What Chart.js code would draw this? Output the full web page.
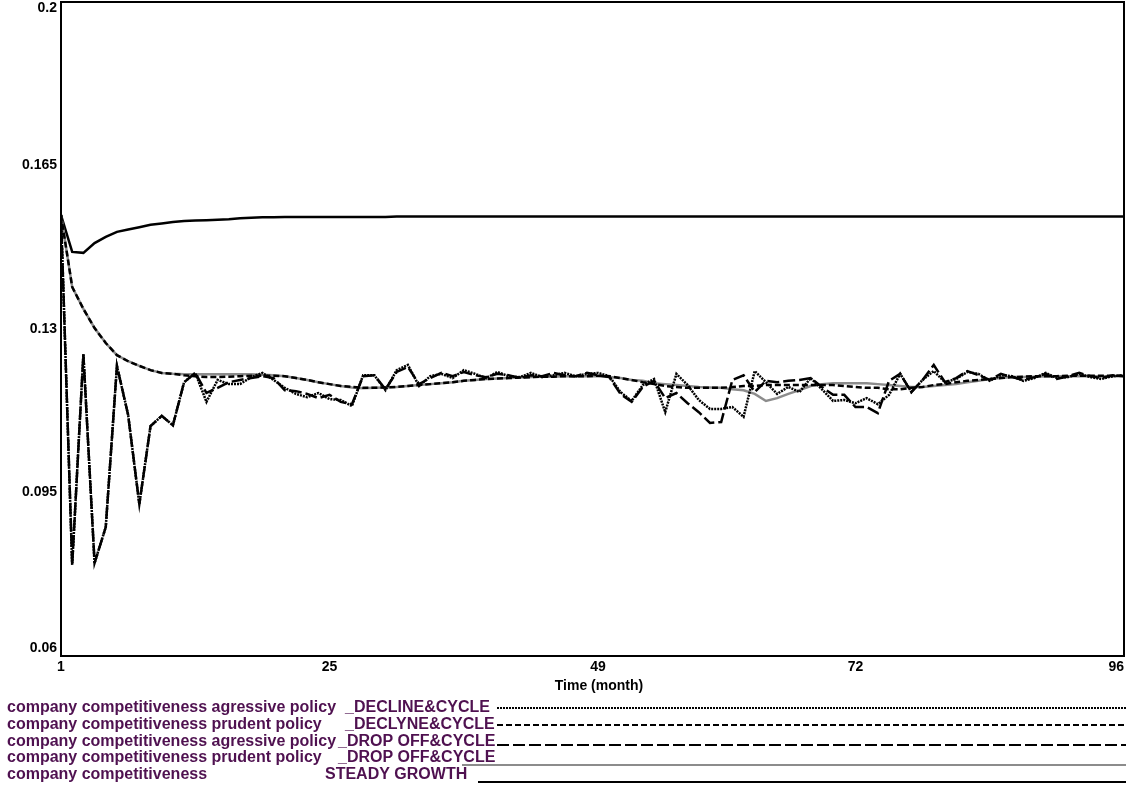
<!DOCTYPE html>
<html>
<head>
<meta charset="utf-8">
<script src="https://cdn.jsdelivr.net/npm/chart.js@4/dist/chart.umd.min.js"></script>
<style>
  body { margin: 0; background: #fff; }
  #wrap { width: 1126px; height: 787px; }
</style>
</head>
<body>
<div id="wrap"><canvas id="myChart" width="1126" height="787"></canvas></div>
<script>
// months 1..96
const months = [1,2,3,4,5,6,7,8,9,10,11,12,13,14,15,16,17,18,19,20,21,22,23,24,25,26,27,28,29,30,31,32,
  33,34,35,36,37,38,39,40,41,42,43,44,45,46,47,48,49,50,51,52,53,54,55,56,57,58,59,60,61,62,63,64,
  65,66,67,68,69,70,71,72,73,74,75,76,77,78,79,80,81,82,83,84,85,86,87,88,89,90,91,92,93,94,95,96];

const xTicks = [1, 25, 49, 72, 96];
const yTicks = [0.06, 0.095, 0.13, 0.165, 0.2];
const yTickLabels = ["0.06", "0.095", "0.13", "0.165", "0.2"];

// agressive policy _DECLINE&CYCLE
const aggDecline = [0.1544,0.0795,0.1246,0.0799,0.0876,0.1221,0.1116,0.0925,0.1092,0.1114,
  0.1094,0.1186,0.1206,0.1144,0.1191,0.1182,0.1182,0.1197,0.1206,0.1191,
  0.1174,0.1161,0.1154,0.1163,0.1150,0.1148,0.1135,0.1201,0.1201,0.1169,
  0.1212,0.1223,0.1178,0.1199,0.1204,0.1195,0.1212,0.1204,0.1195,0.1208,
  0.1199,0.1197,0.1206,0.1197,0.1201,0.1206,0.1199,0.1204,0.1206,0.1199,
  0.1165,0.1146,0.1180,0.1193,0.1122,0.1204,0.1180,0.1148,0.1129,0.1129,
  0.1133,0.1112,0.1210,0.1186,0.1161,0.1176,0.1165,0.1195,0.1171,0.1146,
  0.1148,0.1141,0.1152,0.1139,0.1159,0.1204,0.1165,0.1191,0.1210,0.1186,
  0.1193,0.1208,0.1204,0.1189,0.1201,0.1199,0.1189,0.1195,0.1206,0.1195,
  0.1197,0.1204,0.1197,0.1193,0.1199,0.1201];

// prudent policy _DECLYNE&CYCLE
const prudDecline = [0.1544,0.1390,0.1343,0.1302,0.1270,0.1244,0.1231,0.1221,0.1212,0.1206,
  0.1204,0.1201,0.1199,0.1197,0.1197,0.1198,0.1199,0.1200,0.1200,0.1200,
  0.1199,0.1195,0.1191,0.1186,0.1182,0.1178,0.1176,0.1174,0.1174,0.1175,
  0.1176,0.1178,0.1180,0.1182,0.1184,0.1186,0.1189,0.1191,0.1193,0.1194,
  0.1195,0.1196,0.1197,0.1198,0.1198,0.1199,0.1199,0.1199,0.1200,0.1199,
  0.1195,0.1191,0.1186,0.1182,0.1178,0.1176,0.1174,0.1174,0.1174,0.1174,
  0.1176,0.1178,0.1178,0.1180,0.1180,0.1180,0.1180,0.1180,0.1180,0.1180,
  0.1178,0.1176,0.1174,0.1174,0.1171,0.1171,0.1174,0.1176,0.1180,0.1182,
  0.1186,0.1189,0.1191,0.1193,0.1195,0.1197,0.1198,0.1199,0.1199,0.1199,
  0.1200,0.1200,0.1200,0.1200,0.1200,0.1200];

// agressive policy _DROP OFF&CYCLE
const aggDrop = [0.1544,0.0795,0.1246,0.0799,0.0876,0.1221,0.1116,0.0925,0.1092,0.1114,
  0.1094,0.1186,0.1206,0.1163,0.1174,0.1186,0.1191,0.1195,0.1199,0.1195,
  0.1169,0.1167,0.1161,0.1152,0.1159,0.1144,0.1139,0.1199,0.1201,0.1171,
  0.1208,0.1219,0.1182,0.1195,0.1206,0.1199,0.1208,0.1201,0.1197,0.1204,
  0.1201,0.1195,0.1201,0.1199,0.1206,0.1201,0.1199,0.1206,0.1201,0.1197,
  0.1161,0.1144,0.1176,0.1189,0.1152,0.1163,0.1141,0.1122,0.1099,0.1101,
  0.1191,0.1201,0.1165,0.1189,0.1186,0.1189,0.1191,0.1195,0.1176,0.1159,
  0.1159,0.1133,0.1133,0.1120,0.1189,0.1204,0.1165,0.1191,0.1223,0.1186,
  0.1195,0.1210,0.1201,0.1191,0.1204,0.1197,0.1191,0.1197,0.1204,0.1193,
  0.1199,0.1206,0.1199,0.1195,0.1201,0.1199];

// prudent policy _DROP OFF&CYCLE
const prudDrop = [0.1544,0.1390,0.1343,0.1302,0.1270,0.1244,0.1231,0.1221,0.1212,0.1206,
  0.1204,0.1203,0.1203,0.1203,0.1203,0.1203,0.1203,0.1203,0.1202,0.1201,
  0.1199,0.1195,0.1191,0.1186,0.1182,0.1178,0.1175,0.1173,0.1174,0.1175,
  0.1176,0.1178,0.1180,0.1182,0.1184,0.1186,0.1189,0.1191,0.1193,0.1194,
  0.1195,0.1196,0.1197,0.1198,0.1198,0.1199,0.1199,0.1199,0.1199,0.1197,
  0.1195,0.1191,0.1189,0.1184,0.1182,0.1180,0.1178,0.1176,0.1175,0.1174,
  0.1171,0.1169,0.1161,0.1146,0.1152,0.1161,0.1169,0.1178,0.1182,0.1184,
  0.1184,0.1184,0.1184,0.1182,0.1180,0.1178,0.1176,0.1176,0.1178,0.1180,
  0.1182,0.1186,0.1189,0.1193,0.1195,0.1197,0.1197,0.1198,0.1199,0.1199,
  0.1199,0.1199,0.1199,0.1199,0.1199,0.1199];

// STEADY GROWTH
const steady = [0.1544,0.1465,0.1463,0.1484,0.1497,0.1508,0.1513,0.1518,0.1523,0.1526,
  0.1529,0.1531,0.1532,0.1533,0.1534,0.1535,0.1537,0.1538,0.1539,0.1539,
  0.1540,0.1540,0.1540,0.1540,0.1540,0.1540,0.1540,0.1540,0.1540,0.1540,
  0.1541,0.1541,0.1541,0.1541,0.1541,0.1541,0.1541,0.1541,0.1541,0.1541,
  0.1541,0.1541,0.1541,0.1541,0.1541,0.1541,0.1541,0.1541,0.1541,0.1541,
  0.1541,0.1541,0.1541,0.1541,0.1541,0.1541,0.1541,0.1541,0.1541,0.1541,
  0.1541,0.1541,0.1541,0.1541,0.1541,0.1541,0.1541,0.1541,0.1541,0.1541,
  0.1541,0.1541,0.1541,0.1541,0.1541,0.1541,0.1541,0.1541,0.1541,0.1541,
  0.1541,0.1541,0.1541,0.1541,0.1541,0.1541,0.1541,0.1541,0.1541,0.1541,
  0.1541,0.1541,0.1541,0.1541,0.1541,0.1541];

const legendNames = [
  ["company competitiveness agressive policy", "_DECLINE&CYCLE"],
  ["company competitiveness prudent policy", "_DECLYNE&CYCLE"],
  ["company competitiveness agressive policy", "_DROP OFF&CYCLE"],
  ["company competitiveness prudent policy", "_DROP OFF&CYCLE"],
  ["company competitiveness", "STEADY GROWTH"]
];

const TICK_FONT = 'bold 14px "Liberation Sans", Arial, sans-serif';
const LEG_FONT = 'bold 16px "Liberation Sans", Arial, sans-serif';

// legend rows: tag x, text y, line start, line y
const legendRows = [
  {tx: 345, ty: 708, lx: 497, ly: 708},
  {tx: 345, ty: 725, lx: 497, ly: 725},
  {tx: 338, ty: 742, lx: 497, ly: 745},
  {tx: 338, ty: 758, lx: 462, ly: 765},
  {tx: 325, ty: 775, lx: 478, ly: 782}
];

const frame = {
  id: 'frame',
  afterDraw(chart) {
    const ctx = chart.ctx;
    const a = chart.chartArea;
    const xs = chart.scales.x, ys = chart.scales.y;
    ctx.save();
    ctx.strokeStyle = '#000';
    ctx.lineWidth = 2;
    ctx.setLineDash([]);
    ctx.strokeRect(a.left, a.top, a.right - a.left, a.bottom - a.top);

    ctx.font = TICK_FONT;
    ctx.fillStyle = '#000';
    ctx.textBaseline = 'middle';
    ctx.textAlign = 'right';
    yTicks.forEach((v, i) => {
      let y = ys.getPixelForValue(v);
      if (i === yTicks.length - 1) y += 6;
      if (i === 0) y -= 8;
      ctx.fillText(yTickLabels[i], 57, y);
    });
    xTicks.forEach((v, i) => {
      const x = xs.getPixelForValue(v);
      if (i === xTicks.length - 1) {
        ctx.textAlign = 'right';
        ctx.fillText(String(v), a.right, 667);
      } else {
        ctx.textAlign = 'center';
        ctx.fillText(String(v), x, 667);
      }
    });
    ctx.textAlign = 'center';
    ctx.fillText('Time (month)', 599, 686);

    // legend
    const ds = chart.data.datasets;
    ctx.font = LEG_FONT;
    legendRows.forEach((r, i) => {
      ctx.fillStyle = '#4f1150';
      ctx.textAlign = 'left';
      ctx.fillText(legendNames[i][0], 7, r.ty);
      ctx.fillText(legendNames[i][1], r.tx, r.ty);
      ctx.strokeStyle = ds[i].borderColor;
      ctx.lineWidth = 2;
      ctx.setLineDash(ds[i].borderDash || []);
      ctx.beginPath();
      ctx.moveTo(r.lx, r.ly);
      ctx.lineTo(1126, r.ly);
      ctx.stroke();
    });
    ctx.restore();
  }
};

function makeChart() {
  const ctx = document.getElementById('myChart');
  new Chart(ctx, {
    type: 'line',
    data: {
      labels: months,
      datasets: [
        {label: legendNames[0].join(' '), data: aggDecline, borderColor: '#000', borderWidth: 2.5, borderDash: [2, 1]},
        {label: legendNames[1].join(' '), data: prudDecline, borderColor: '#000', borderWidth: 2.5, borderDash: [6, 3]},
        {label: legendNames[2].join(' '), data: aggDrop, borderColor: '#000', borderWidth: 2.5, borderDash: [12, 4]},
        {label: legendNames[3].join(' '), data: prudDrop, borderColor: '#8c8c8c', borderWidth: 2.5},
        {label: legendNames[4].join(' '), data: steady, borderColor: '#000', borderWidth: 2.5}
      ]
    },
    options: {
      responsive: false,
      animation: false,
      elements: { point: { radius: 0 }, line: { tension: 0 } },
      layout: { padding: { top: 2, right: 2, left: 0, bottom: 0 } },
      plugins: { legend: { display: false }, tooltip: { enabled: false } },
      scales: {
        x: {
          type: 'linear', min: 1, max: 96,
          grid: { display: false }, border: { display: false },
          ticks: { display: false },
          afterFit(s) { s.height = 131; }
        },
        y: {
          min: 0.06, max: 0.2,
          grid: { display: false }, border: { display: false },
          ticks: { display: false },
          afterFit(s) { s.width = 61; }
        }
      }
    },
    plugins: [frame]
  });
}

makeChart();
</script>
</body>
</html>
